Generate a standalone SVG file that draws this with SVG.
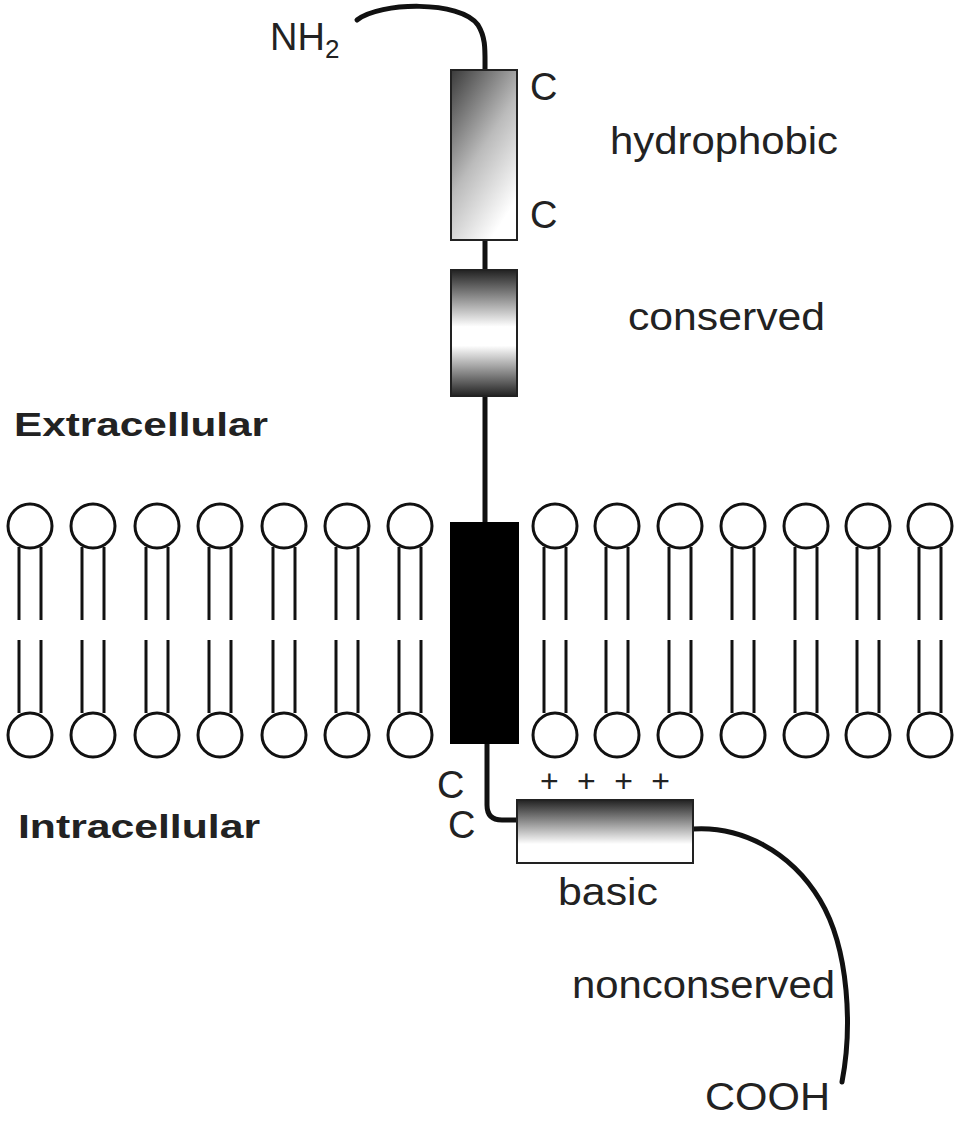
<svg xmlns="http://www.w3.org/2000/svg" width="959" height="1121" viewBox="0 0 959 1121">
<style>
text{font-family:"Liberation Sans",Arial,sans-serif;font-size:38px;fill:#222}
.b{font-weight:bold;font-size:34px}
.head{fill:#fff;stroke:#111;stroke-width:3}
.tail{stroke:#111;stroke-width:3}
.ch{fill:none;stroke:#111;stroke-width:5;stroke-linecap:round}
</style>
<defs>
<linearGradient id="g1" x1="0" y1="0" x2="0.6" y2="1"><stop offset="0" stop-color="#3a3a3a"/><stop offset="0.55" stop-color="#bbb"/><stop offset="1" stop-color="#fff"/></linearGradient>
<linearGradient id="g2" x1="0" y1="0" x2="0" y2="1"><stop offset="0" stop-color="#222"/><stop offset="0.45" stop-color="#fff"/><stop offset="0.6" stop-color="#fff"/><stop offset="1" stop-color="#222"/></linearGradient>
<linearGradient id="g3" x1="0" y1="0" x2="0" y2="1"><stop offset="0" stop-color="#222"/><stop offset="0.7" stop-color="#fff"/><stop offset="1" stop-color="#fff"/></linearGradient>
<g id="lipid"><line class="tail" x1="-11" y1="547" x2="-11" y2="620"/><line class="tail" x1="11" y1="547" x2="11" y2="620"/><line class="tail" x1="-11" y1="640" x2="-11" y2="713"/><line class="tail" x1="11" y1="640" x2="11" y2="713"/><circle class="head" cx="0" cy="526" r="22"/><circle class="head" cx="0" cy="735" r="22"/></g>
</defs>
<g id="connectors">
<path class="ch" d="M357,20 C380,2 460,0 478,25 C486,38 485,50 485,70"/>
<line class="ch" x1="485" y1="240" x2="485" y2="270"/>
<line class="ch" x1="485" y1="396" x2="485" y2="522"/>
<path class="ch" d="M487,744 L487,805 Q487,820 502,820 L517,820"/>
<path class="ch" d="M693,829 C740,826 790,850 820,900 C850,950 852,1030 842,1082"/>
</g>
<g id="membrane">
<use href="#lipid" x="30"/><use href="#lipid" x="93"/><use href="#lipid" x="157"/><use href="#lipid" x="220"/><use href="#lipid" x="284"/><use href="#lipid" x="347"/><use href="#lipid" x="410"/>
<use href="#lipid" x="555"/><use href="#lipid" x="617"/><use href="#lipid" x="680"/><use href="#lipid" x="743"/><use href="#lipid" x="806"/><use href="#lipid" x="868"/><use href="#lipid" x="930"/>
</g>
<g id="hydrophobic"><rect x="451" y="70" width="66" height="170" fill="url(#g1)" stroke="#222" stroke-width="2"/><text x="530" y="100">C</text><text x="530" y="228">C</text><text x="610" y="154" textLength="228" lengthAdjust="spacingAndGlyphs">hydrophobic</text></g>
<g id="conserved"><rect x="451" y="270" width="66" height="126" fill="url(#g2)" stroke="#222" stroke-width="2"/><text x="628" y="330" textLength="197" lengthAdjust="spacingAndGlyphs">conserved</text></g>
<g id="tm"><rect x="450" y="522" width="69" height="222" fill="#000"/></g>
<g id="basic"><rect x="517" y="800" width="176" height="63" fill="url(#g3)" stroke="#222" stroke-width="2"/><text x="540" y="792" style="font-size:32px" textLength="130">+ + + +</text><text x="558" y="905" textLength="100" lengthAdjust="spacingAndGlyphs">basic</text></g>
<text x="437" y="798">C</text><text x="448" y="838">C</text>
<text x="270" y="50">NH<tspan dy="8" style="font-size:26px">2</tspan></text>
<text class="b" x="14" y="436" textLength="254" lengthAdjust="spacingAndGlyphs">Extracellular</text>
<text class="b" x="18" y="838" textLength="242" lengthAdjust="spacingAndGlyphs">Intracellular</text>
<text x="572" y="998" textLength="263" lengthAdjust="spacingAndGlyphs">nonconserved</text>
<text x="705" y="1110" textLength="125" lengthAdjust="spacingAndGlyphs">COOH</text>
</svg>
